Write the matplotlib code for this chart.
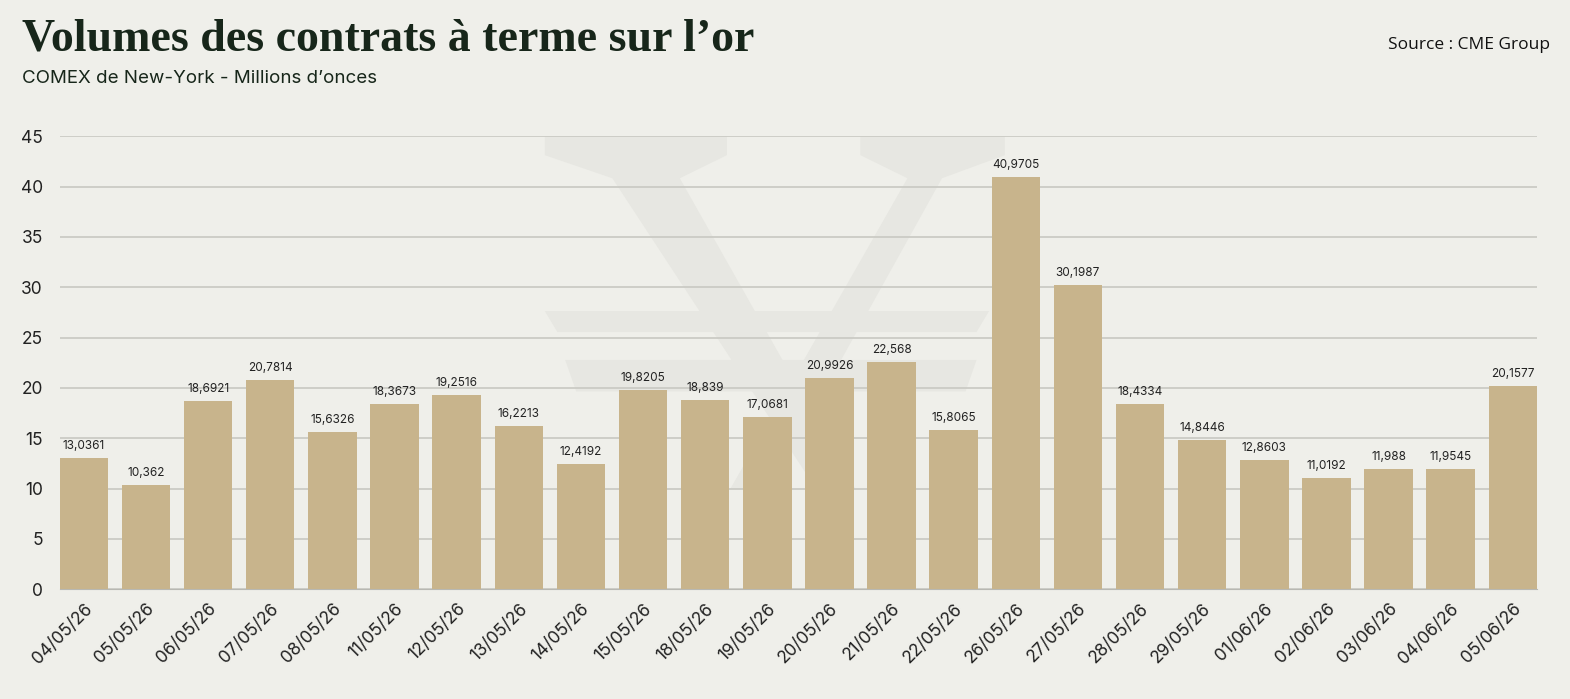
import matplotlib.pyplot as plt
from matplotlib.patches import Polygon

dates = ["04/05/26", "05/05/26", "06/05/26", "07/05/26", "08/05/26", "11/05/26",
         "12/05/26", "13/05/26", "14/05/26", "15/05/26", "18/05/26", "19/05/26",
         "20/05/26", "21/05/26", "22/05/26", "26/05/26", "27/05/26", "28/05/26",
         "29/05/26", "01/06/26", "02/06/26", "03/06/26", "04/06/26", "05/06/26"]
volumes = [13.0361, 10.362, 18.6921, 20.7814, 15.6326, 18.3673,
           19.2516, 16.2213, 12.4192, 19.8205, 18.839, 17.0681,
           20.9926, 22.568, 15.8065, 40.9705, 30.1987, 18.4334,
           14.8446, 12.8603, 11.0192, 11.988, 11.9545, 20.1577]
y_ticks = [0, 5, 10, 15, 20, 25, 30, 35, 40, 45]

BG = "#efefea"
BAR = "#c8b48c"
DARK = "#17261a"

plt.rcParams['font.family'] = ['Inter', 'DejaVu Sans']

fig = plt.figure(figsize=(15.7, 6.99), dpi=100, facecolor=BG)
ax = fig.add_axes([0.038, 0.157, 0.941, 0.648])
ax.patch.set_visible(False)

# faint logo watermark behind the bars (figure fraction coords)
wm = "#e7e7e2"
logo = [
    [(0.347, 0.805), (0.463, 0.805), (0.463, 0.778), (0.433, 0.745), (0.545, 0.3), (0.52, 0.3), (0.39, 0.745), (0.347, 0.778)],
    [(0.548, 0.805), (0.64, 0.805), (0.64, 0.778), (0.6, 0.745), (0.49, 0.3), (0.465, 0.3), (0.578, 0.745), (0.548, 0.778)],
    [(0.347, 0.555), (0.63, 0.555), (0.622, 0.525), (0.355, 0.525)],
    [(0.36, 0.485), (0.622, 0.485), (0.615, 0.44), (0.367, 0.44)],
]
for pts in logo:
    fig.patches.append(Polygon(pts, closed=True, transform=fig.transFigure,
                               facecolor=wm, edgecolor="none", zorder=-1))

x = range(len(dates))
ax.bar(x, volumes, width=0.78, color=BAR, zorder=3)
for xi, v in zip(x, volumes):
    ax.text(xi, v + 0.6, str(v).replace('.', ','), ha='center', va='bottom',
            fontsize=8.5, color="#222222", zorder=4)

ax.set_xlim(-0.39, len(dates) - 0.61)
ax.set_ylim(0, 45)
ax.set_yticks(y_ticks)
ax.yaxis.grid(True, color="#c8c8c2", linewidth=1.2, zorder=1)
ax.set_axisbelow(True)
ax.set_xticks(list(x))
ax.set_xticklabels(dates, rotation=45, ha='right', rotation_mode='anchor', fontsize=12.5)
ax.tick_params(axis='y', labelsize=12.5, length=0, pad=12, colors="#222222")
ax.tick_params(axis='x', length=0, pad=8, colors="#222222")
for s in ["top", "right", "left"]:
    ax.spines[s].set_visible(False)
ax.spines["bottom"].set_color("#b8b8b2")

fig.text(0.014, 0.928, "Volumes des contrats à terme sur l’or", fontsize=33,
         fontweight='bold', color=DARK, family=['Liberation Serif', 'DejaVu Serif'])
fig.text(0.014, 0.875, "COMEX de New-York - Millions d’onces", fontsize=13.5,
         color=DARK, va='bottom')
fig.text(0.987, 0.93, "Source : CME Group", fontsize=12.5, color="#111111",
         ha='right', family=['Open Sans', 'DejaVu Sans'])

fig.savefig("out.png", dpi=100, facecolor=BG)
